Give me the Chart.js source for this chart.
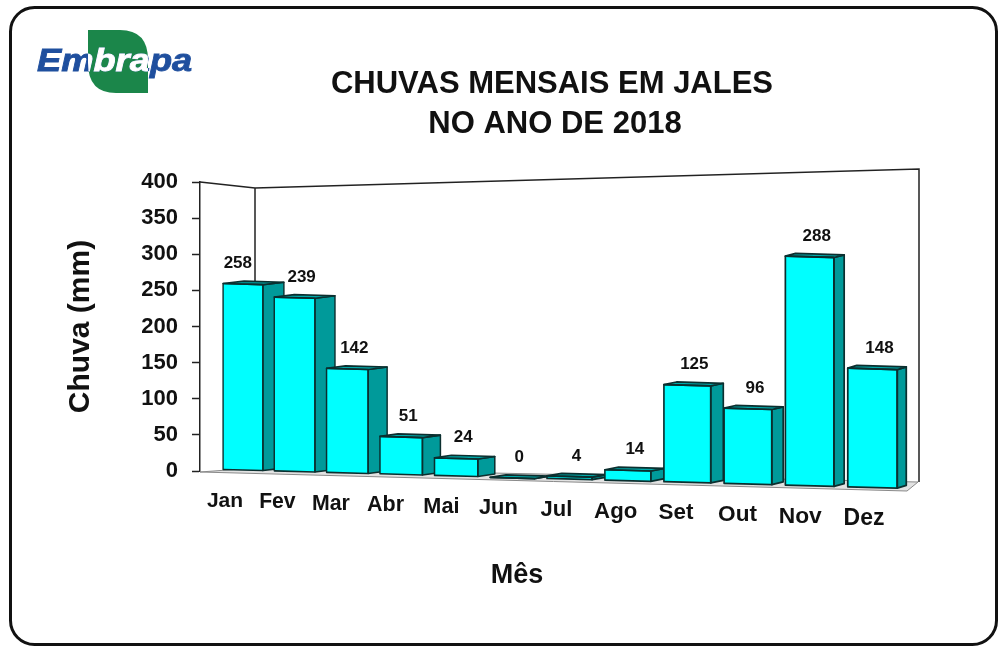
<!DOCTYPE html>
<html><head><meta charset="utf-8">
<script src="https://cdn.jsdelivr.net/npm/chart.js@4.4.1/dist/chart.umd.min.js"></script>
<style>html,body{margin:0;padding:0;background:#fff;overflow:hidden}#wrap{position:relative;width:998px;height:648px}</style>
</head><body><div id="wrap"><canvas id="c" width="998" height="648"></canvas></div>
<script>
// ---- data ----
const months = ['Jan','Fev','Mar','Abr','Mai','Jun','Jul','Ago','Set','Out','Nov','Dez'];
const rainfall = [258,239,142,51,24,0,4,14,125,96,288,148];
const yTicks = [0,50,100,150,200,250,300,350,400];
const titleLines = ['CHUVAS MENSAIS EM JALES','NO ANO DE 2018'];
const yAxisTitle = 'Chuva (mm)';
const xAxisTitle = 'Mês';
const logoText = 'Embrapa';

const FONT = '"Liberation Sans", Arial, sans-serif';
Chart.defaults.font.family = FONT;

// perspective helper (projects the flat Chart.js geometry into the tilted 3D look)
function persp(chart){
  const xs = chart.scales.x, ys = chart.scales.y;
  const c0 = xs.getPixelForValue(0), c1 = xs.getPixelForValue(months.length-1);
  const y0 = ys.getPixelForValue(0);
  const X0 = 243, X1 = 872.5, K = 0.108;
  const span = X1 - X0, fl = c1 - c0;
  const px = x => { const u=(x-c0)/fl; return X0 + span*(u - K*u*(1-u)); };
  const sx = x => { const u=(x-c0)/fl; return span/fl*(1 - K*(1-2*u)); };
  const yb = xp => 470.5 + 0.0278*(xp - X0);
  const sy = xp => 1 + 0.000181*(xp - X0);
  return {px, sx, yb, sy, y0, X0};
}

const BORDER = '#0b2f2f';
const WALL_DEPTH = 55;

const frameAndHeader = {
  id:'frameAndHeader',
  beforeDraw(chart){
    const ctx = chart.ctx;
    ctx.save();
    ctx.fillStyle = '#fff';
    ctx.fillRect(0,0,chart.width,chart.height);
    // rounded frame
    ctx.beginPath();
    ctx.roundRect(10.5, 7.5, 986, 637, 24);
    ctx.lineWidth = 3; ctx.strokeStyle = '#111'; ctx.stroke();
    // logo leaf
    const leaf = new Path2D();
    leaf.moveTo(88,30); leaf.lineTo(120,30);
    leaf.quadraticCurveTo(148,30,148,60); leaf.lineTo(148,93);
    leaf.lineTo(116,93); leaf.quadraticCurveTo(88,93,88,63); leaf.closePath();
    ctx.fillStyle = '#1b864a'; ctx.fill(leaf);
    const drawLogoText = (color) => {
      ctx.save();
      ctx.translate(37,71); ctx.scale(1.17,1);
      ctx.font = 'italic bold 31px ' + FONT;
      ctx.fillStyle = color; ctx.textBaseline='alphabetic'; ctx.textAlign='left';
      ctx.fillText(logoText, 0, 0);
      ctx.lineWidth = 0.8; ctx.strokeStyle = color; ctx.strokeText(logoText, 0, 0);
      ctx.restore();
    };
    drawLogoText('#1f4f9e');
    ctx.save(); ctx.clip(leaf); drawLogoText('#ffffff'); ctx.restore();
    // title
    ctx.fillStyle = '#111'; ctx.textAlign='center'; ctx.textBaseline='alphabetic';
    ctx.font = 'bold 31px ' + FONT;
    ctx.fillText(titleLines[0], 552, 93);
    ctx.fillText(titleLines[1], 555, 133);
    ctx.restore();
  },
  beforeDatasetsDraw(chart){
    const ctx = chart.ctx, a = chart.chartArea;
    const L = a.left, T = a.top, y0 = chart.scales.y.getPixelForValue(0);
    ctx.save();
    // floor
    ctx.beginPath();
    ctx.moveTo(L, y0+1); ctx.lineTo(L+WALL_DEPTH, y0-3); ctx.lineTo(a.right+18, y0+11);
    ctx.lineTo(a.right+7, y0+20); ctx.closePath();
    ctx.fillStyle = '#e2e2e2'; ctx.fill();
    ctx.lineWidth = 1; ctx.strokeStyle = '#8a8a8a'; ctx.stroke();
    // back wall outline
    ctx.beginPath();
    ctx.moveTo(L, T); ctx.lineTo(L+WALL_DEPTH, T+6);
    ctx.lineTo(a.right+19, T-13); ctx.lineTo(a.right+19, y0+11);
    ctx.moveTo(L+WALL_DEPTH, T+6); ctx.lineTo(L+WALL_DEPTH, y0-3);
    ctx.lineWidth = 1.5; ctx.strokeStyle = '#222'; ctx.stroke();
    ctx.restore();
  }
};

const bars3d = {
  id:'bars3d',
  beforeDatasetDraw(chart, args){
    const ctx = chart.ctx, P = persp(chart);
    const kb = 0.0278;
    args.meta.data.forEach(el => {
      const {x, y, base, width} = el.getProps(['x','y','base','width'], true);
      const xp = P.px(x), s_x = P.sx(x), s_y = P.sy(xp), yb = P.yb(xp);
      ctx.save();
      ctx.transform(s_x, kb*s_x, 0, s_y, xp - s_x*x, yb - kb*s_x*x - s_y*P.y0);
      el.draw(ctx);
      const wf = (21 - 0.019*(xp-243))/s_x;
      const dyf = -3/s_y;
      const x1 = x - width/2, x2 = x + width/2;
      ctx.lineWidth = 1.6; ctx.strokeStyle = BORDER; ctx.lineJoin='round';
      // side face
      ctx.beginPath();
      ctx.moveTo(x2, y); ctx.lineTo(x2+wf, y+dyf); ctx.lineTo(x2+wf, base+dyf); ctx.lineTo(x2, base); ctx.closePath();
      ctx.fillStyle = '#009a9a'; ctx.fill(); ctx.stroke();
      // top face
      ctx.beginPath();
      ctx.moveTo(x1, y); ctx.lineTo(x1+wf, y+dyf); ctx.lineTo(x2+wf, y+dyf); ctx.lineTo(x2, y); ctx.closePath();
      ctx.fillStyle = '#00a9a9'; ctx.fill(); ctx.stroke();
      // front outline
      ctx.strokeRect(x1, y, width, base - y);
      ctx.restore();
    });
    return false;
  },
  afterDatasetsDraw(chart){
    const ctx = chart.ctx, P = persp(chart);
    const meta = chart.getDatasetMeta(0);
    const data = chart.data.datasets[0].data;
    const wallX = chart.chartArea.left + WALL_DEPTH;
    ctx.save();
    ctx.fillStyle = '#111'; ctx.textAlign = 'center'; ctx.textBaseline = 'alphabetic';
    meta.data.forEach((el,i) => {
      const xp = P.px(el.x), yb = P.yb(xp), sy = P.sy(xp);
      const topY = yb + sy*(el.y - P.y0);
      ctx.font = 'bold 17px ' + FONT;
      const txt = String(data[i]);
      const w = ctx.measureText(txt).width;
      let lx = xp + 7;
      // keep value labels clear of the back-wall edge line
      if (lx - w/2 < wallX + 3 && lx + w/2 > wallX - 3) lx = wallX - 3 - w/2;
      ctx.fillText(txt, lx, topY - 16);
      const fs = 21 + 2*(xp-243)/629;
      ctx.font = 'bold ' + fs.toFixed(1) + 'px ' + FONT;
      ctx.fillText(chart.data.labels[i], xp - 18 + 0.0151*(xp-243), yb + 36.5);
    });
    ctx.font = 'bold 27px ' + FONT;
    ctx.fillText(xAxisTitle, 517, 583);
    ctx.restore();
  }
};

new Chart(document.getElementById('c'), {
  type:'bar',
  data:{ labels: months, datasets:[{ data: rainfall, backgroundColor:'#00ffff', borderColor:BORDER, borderWidth:0, barPercentage:0.78, categoryPercentage:1 }] },
  options:{
    responsive:false, animation:false, devicePixelRatio:1, events:[],
    layout:{ padding:{ left:12, top:182, right:98, bottom:177 } },
    plugins:{ legend:{display:false}, title:{display:false}, tooltip:{enabled:false} },
    scales:{
      x:{ display:false },
      y:{ min:0, max:400,
          afterBuildTicks: s => { s.ticks = yTicks.map(v => ({value:v})); },
          ticks:{ font:{size:22, weight:'bold'}, color:'#111', padding:14 },
          grid:{ drawOnChartArea:false, drawTicks:true, tickLength:8, tickColor:'#222', tickWidth:1.5 },
          border:{ display:true, color:'#222', width:1.5 },
          title:{ display:true, text:yAxisTitle, font:{size:30, weight:'bold'}, color:'#111', padding:{top:51, bottom:0} },
          afterFit: s => { s.width = 188; }
      }
    }
  },
  plugins:[frameAndHeader, bars3d]
});
</script></body></html>
